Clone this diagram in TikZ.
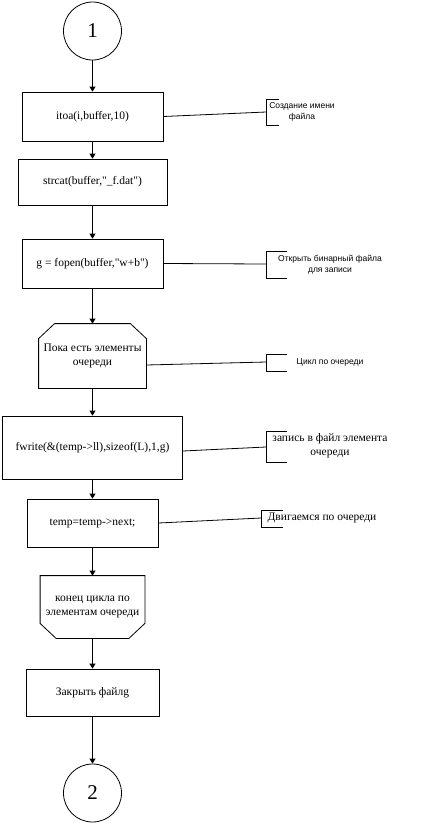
\documentclass[tikz,border=0pt]{standalone}
\usepackage{fontspec}
\setmainfont{Liberation Serif}[Ligatures=TeXOff]
\newfontfamily\cmtsans{Liberation Sans}
\usepackage{tikz}
\usetikzlibrary{arrows.meta}

\begin{document}
\begin{tikzpicture}[x=1pt,y=-1pt,line width=0.8pt,
    blok/.style={draw,rectangle,inner sep=0pt,align=center,font=\fontsize{11.5}{14.5}\selectfont},
    cikl/.style={rectangle,inner sep=0pt,align=center,font=\fontsize{11.5}{14.5}\selectfont},
    konn/.style={draw,circle,inner sep=0pt,minimum size=58pt,font=\fontsize{21}{21}\selectfont},
    strel/.style={-{Triangle[length=5pt,width=6pt]}},
    kom/.style={align=center,inner sep=0pt},
    komsans/.style={kom,font=\cmtsans\fontsize{8.5}{11}\selectfont},
    komserif/.style={kom,font=\fontsize{11.5}{14}\selectfont}]
                 \useasboundingbox (0,0) rectangle (424,823);
                 \node[konn](c1)at(92.5,31){1};
                 \node[blok,minimum width=141pt,minimum height=49pt](b1)at(92.5,116.5){itoa(i,buffer,10)};
                 \node[blok,minimum width=149pt,minimum height=46pt](b2)at(92.5,182){strcat(buffer,"\_f.dat")};
                 \node[blok,minimum width=141pt,minimum height=49pt](b3)at(92.5,263.5){g = fopen(buffer,"w+b")};
                 \node[cikl,minimum width=107pt,minimum height=64pt](l1)at(92.5,356){Пока есть элементы\\очереди};
                 \node[blok,minimum width=180pt,minimum height=63pt](b5)at(92.5,447.5){fwrite(\&(temp->ll),sizeof(L),1,g)};
                 \node[blok,minimum width=131pt,minimum height=48pt](b6)at(92.5,523){temp=temp->next;};
                 \node[cikl,minimum width=104pt,minimum height=62pt](l2)at(92.5,607){конец цикла по\\элементам очереди};
                 \node[blok,minimum width=133pt,minimum height=47pt](b8)at(92.5,692.5){Закрыть файлg};
                 \node[konn](c2)at(92.5,793){2};
                 % nachalo i konec cikla
                 \draw(l1.south west)--([yshift=-15pt]l1.north west)--([xshift=16pt]l1.north west)
                      --([xshift=-16pt]l1.north east)--([yshift=-15pt]l1.north east)--(l1.south east)--cycle;
                 \draw(l2.north west)--([yshift=15pt]l2.south west)--([xshift=16pt]l2.south west)
                      --([xshift=-16pt]l2.south east)--([yshift=15pt]l2.south east)--(l2.north east)--cycle;
                 % strelki
                 \draw[strel](c1)--(b1);
                 \draw[strel](b1)--(b2);
                 \draw[strel](b2)--(b3);
                 \draw[strel](b3)--(l1);
                 \draw[strel](l1)--(b5);
                 \draw[strel](b5)--(b6);
                 \draw[strel](b6)--(l2);
                 \draw[strel](l2)--(b8);
                 \draw[strel](b8)--(c2);
                 % kommentarii
                 \coordinate(k1)at(266,112);
                 \draw(279,99)--(266,99)--(266,125)--(279,125);
                 \draw(b1.east)--(k1);
                 \node[komsans](t1)at(302,112){Создание имени\\файла};
                 \coordinate(k2)at(266,264);
                 \draw(287,251)--(266,251)--(266,278)--(287,278);
                 \draw(b3.east)--(k2);
                 \node[komsans](t2)at(330,265){Открыть бинарный файла\\для записи};
                 \coordinate(k3)at(266,362);
                 \draw(287,354)--(266,354)--(266,371)--(287,371);
                 \draw([yshift=-9pt]l1.east)--(k3);
                 \node[komsans](t3)at(330,362){Цикл по очереди};
                 \coordinate(k4)at(266,447);
                 \draw(287,431)--(266,431)--(266,462)--(287,462);
                 \draw([yshift=-3.5pt]b5.east)--(k4);
                 \node[komserif](t4)at(330,446){запись в файл элемента\\очереди};
                 \coordinate(k5)at(261,518);
                 \draw(283,510)--(261,510)--(261,527)--(283,527);
                 \draw(b6.east)--(k5);
                 \node[komserif](t5)at(322,518){Двигаемся по очереди};
               \end{tikzpicture}
\end{document}
